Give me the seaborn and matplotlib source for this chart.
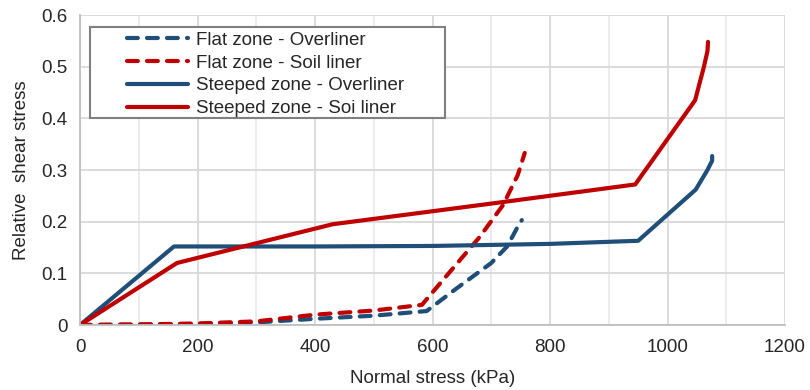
import matplotlib
matplotlib.use("Agg")
import matplotlib.pyplot as plt
import seaborn as sns
import pandas as pd
from matplotlib.ticker import MultipleLocator
from matplotlib.patches import Rectangle

flat_over_x = [0, 100, 200, 300, 400, 500, 590, 640, 700, 727, 745, 752]
flat_over_y = [0, 0.001, 0.002, 0.005, 0.012, 0.018, 0.027, 0.07, 0.12, 0.152, 0.19, 0.203]
flat_soil_x = [0, 100, 200, 300, 400, 500, 582, 620, 680, 720, 745, 757]
flat_soil_y = [0, 0.001, 0.003, 0.007, 0.02, 0.028, 0.039, 0.09, 0.17, 0.232, 0.29, 0.333]
steep_over_x = [0, 160, 400, 600, 800, 950, 1048, 1068, 1076, 1076]
steep_over_y = [0, 0.152, 0.152, 0.153, 0.157, 0.163, 0.262, 0.3, 0.318, 0.327]
steep_soil_x = [0, 165, 430, 700, 945, 1047, 1062, 1068, 1069]
steep_soil_y = [0, 0.12, 0.195, 0.235, 0.272, 0.435, 0.5, 0.53, 0.548]

labels = ["Flat zone - Overliner", "Flat zone - Soil liner",
          "Steeped zone - Overliner", "Steeped zone - Soi liner"]
series = [(flat_over_x, flat_over_y), (flat_soil_x, flat_soil_y),
          (steep_over_x, steep_over_y), (steep_soil_x, steep_soil_y)]
colors = ["#1F4E79", "#C00000", "#1F4E79", "#C00000"]
dashes = [(2.6, 2.2), (2.6, 2.2), "", ""]

sns.set_theme(style="white")
plt.rcParams['font.family'] = ['Liberation Sans', 'DejaVu Sans']

fig = plt.figure(figsize=(8.1, 3.9), dpi=100)
ax = fig.add_axes([80/810, 1 - 325/390, 705/810, 310/390])

for (xs, ys), lab, c, d in zip(series, labels, colors, dashes):
    df = pd.DataFrame({"x": xs, "y": ys})
    sns.lineplot(data=df, x="x", y="y", ax=ax, color=c, lw=3, label=lab,
                 sort=False, estimator=None)
    line = ax.get_lines()[-1]
    if d:
        line.set_dashes(d)
    line.set_solid_capstyle("round")
    line.set_dash_capstyle("round")

ax.set_xlim(0, 1200)
ax.set_ylim(0, 0.6)
ax.xaxis.set_major_locator(MultipleLocator(200))
ax.xaxis.set_minor_locator(MultipleLocator(100))
ax.set_yticks([0, 0.1, 0.2, 0.3, 0.4, 0.5, 0.6])
ax.set_yticklabels(["0", "0.1", "0.2", "0.3", "0.4", "0.5", "0.6"])
ax.grid(which="major", color="#D9D9D9", lw=1.3)
ax.grid(which="minor", axis="x", color="#EBEBEB", lw=1.3)
ax.set_axisbelow(True)
for s in ["top", "right"]:
    ax.spines[s].set_visible(False)
for s in ["left", "bottom"]:
    ax.spines[s].set_color("#BFBFBF")
    ax.spines[s].set_linewidth(1.3)
ax.tick_params(axis="both", which="both", length=0, labelsize=13.5, colors="#262626")
ax.tick_params(axis="x", pad=10)
ax.tick_params(axis="y", pad=9)
ax.set_xlabel("Normal stress (kPa)", fontsize=13.5, color="#262626", labelpad=10)
ax.set_ylabel("Relative  shear stress", fontsize=13.5, color="#262626", labelpad=8)

leg = ax.legend(loc="upper left", bbox_to_anchor=(0.066, 0.946), fontsize=13.5,
                frameon=False, handlelength=3.3, labelspacing=0.3,
                borderpad=0, handletextpad=0.4, borderaxespad=0)
ax.add_patch(Rectangle((0.0142, 0.668), 0.504, 0.293, transform=ax.transAxes,
                       facecolor="white", edgecolor="#808080", lw=1.5, zorder=4))
leg.set_zorder(5)

fig.savefig("out.png", dpi=100)
